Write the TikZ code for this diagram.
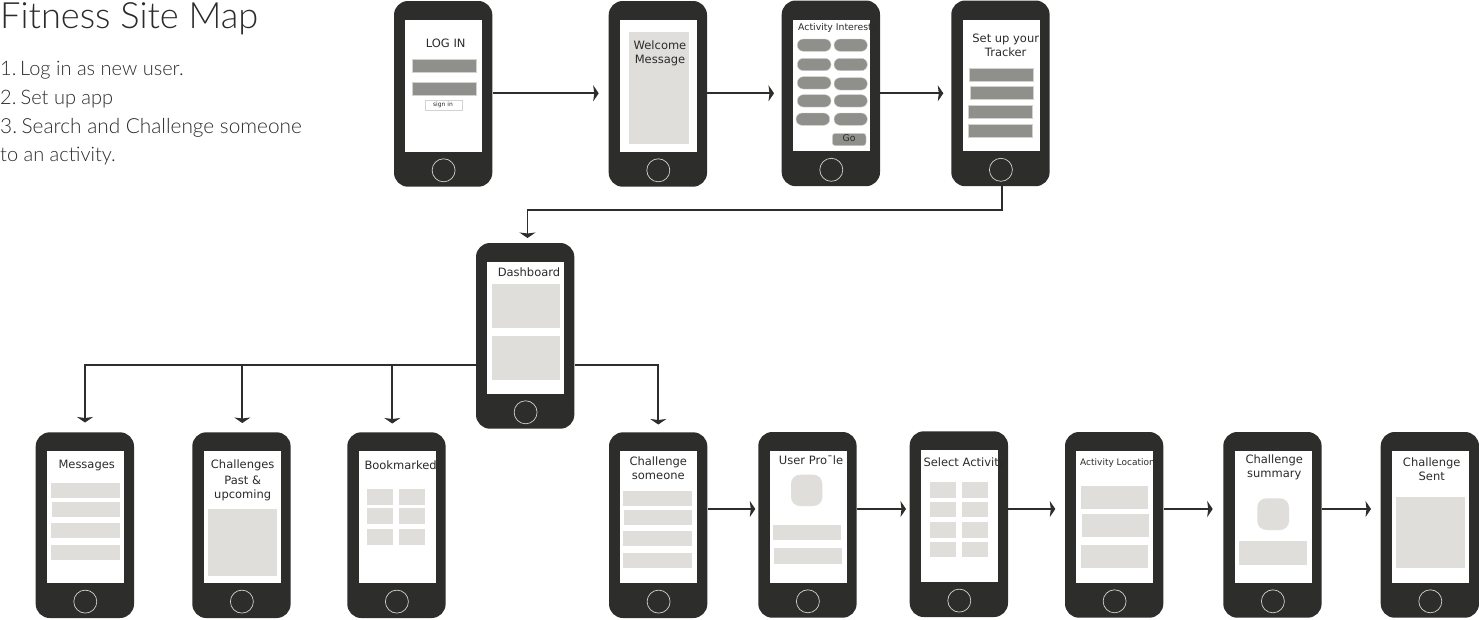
\documentclass[tikz,border=0pt]{standalone}
\usepackage{fontspec}
\setmainfont{DejaVu Sans}
\newfontfamily\headfont{Lato Light}
\usetikzlibrary{arrows.meta}
\definecolor{body}{HTML}{2D2D2B}
\definecolor{pale}{HTML}{E0DEDB}
\definecolor{mid}{HTML}{8F8F8B}
\definecolor{edge}{HTML}{D2D2CE}
\definecolor{ink}{HTML}{2B2B2B}
\tikzset{
  phone/.style={fill=body,rounded corners=14pt,minimum width=98.3pt,minimum height=185.7pt,inner sep=0pt,draw=none},
  lbl/.style={font=\fontsize{11.5}{14}\selectfont,text=ink,inner sep=0pt,align=center,yshift=-0.5pt},
  smalllbl/.style={font=\fontsize{9.3}{12}\selectfont,text=ink,inner sep=0pt,yshift=-0.5pt},
  headtxt/.style={font=\headfont\fontsize{20.8}{24}\selectfont,text=ink,inner sep=0pt,anchor=west,yshift=-1pt},
  headsmall/.style={headtxt,font=\headfont\fontsize{20}{24}\selectfont},
  conn/.style={draw=body,line width=1.9pt},
  arr/.style={conn,-{Stealth[length=5.5pt,width=16pt,inset=1pt]}}
}
\newcommand{\phonebody}[3]{%
  \node[phone] (#1) at (#2+49.15,#3+92.85) {};
  \fill[white] (#2+11.3,#3+19) rectangle (#2+88.3,#3+150.5);
  \draw[edge,line width=0.7pt] (#2+49.6,#3+169.3) circle (11.5);
}
\newcommand{\pbox}[4]{\fill[pale] (#1,#2) rectangle (#3,#4);}
\newcommand{\dbox}[4]{\filldraw[fill=mid,draw=edge,line width=0.6pt] (#1,#2) rectangle (#3,#4);}
\newcommand{\pill}[4]{\filldraw[fill=mid,draw=edge,line width=0.4pt,rounded corners=6pt] (#1,#2) rectangle (#3,#4);}
\begin{document}
\begin{tikzpicture}[x=1pt,y=-1pt]
\useasboundingbox (0,0) rectangle (1479,619);
% phones
\phonebody{login}{394}{1}
\phonebody{welcome}{608.7}{1}
\phonebody{interests}{781.7}{0.5}
\phonebody{tracker}{951.3}{0.5}
\phonebody{dash}{476}{243}
\phonebody{messages}{35.7}{432.3}
\phonebody{challenges}{192.3}{432.3}
\phonebody{bookmarked}{347.3}{432.3}
\phonebody{someone}{609}{432.3}
\phonebody{profile}{758.3}{432}
\phonebody{select}{909.7}{431.3}
\phonebody{location}{1065}{432}
\phonebody{summary}{1223.3}{432}
\phonebody{sent}{1380.7}{432}
% heading
\node[headtxt,font=\headfont\fontsize{36.2}{40}\selectfont] (title) at (0,18) {Fitness Site Map};
\node[headsmall] (l1) at (0,69) {1.\hspace{-3.5pt} Log in as new user.};
\node[headsmall] (l2) at (0,98) {2.\hspace{-3pt} Set up app};
\node[headtxt] (l3) at (0,127) {3.\hspace{-3pt} Search and Challenge someone};
\node[headsmall] (l4) at (0,155) {to an activity.};
% log in
\node[lbl] (tlogin) at (445.7,42.7) {LOG IN};
\dbox{412.3}{59.7}{476.3}{72.7}
\dbox{412.3}{82.3}{476.3}{95.3}
\filldraw[fill=white,draw=edge,line width=0.6pt] (425.7,100.3) rectangle (462.7,110.7);
\node[lbl,font=\fontsize{6}{7}\selectfont] (tsign) at (443,104.5) {sign in};
% welcome
\pbox{629}{31.7}{689}{144.3}
\node[lbl] (twelcome) at (660,52.8) {Welcome\\Message};
% interests
\node[smalllbl,anchor=west] (tinterests) at (798,27.7) {Activity Interests};
\pill{797.3}{39}{831}{51.3}\pill{834}{39}{867.3}{51.3}
\pill{797.3}{58.3}{831}{70.7}\pill{834}{58.3}{867.3}{70.7}
\pill{797.3}{76.7}{831}{89}\pill{834}{77.7}{867.3}{90}
\pill{797.3}{94.7}{831}{107}\pill{834}{94.7}{867.3}{107}
\pill{796}{113}{829.7}{125.3}\pill{834}{113}{867.3}{125.3}
\filldraw[fill=mid,draw=edge,line width=0.4pt,rounded corners=3pt] (832.3,133.3) rectangle (866,145.7);
\node[smalllbl] (tgo) at (849,137.7) {Go};
% tracker
\node[lbl] (ttracker) at (1005.7,44.7) {Set up your\\Tracker};
\dbox{969.7}{68.7}{1033.3}{81.7}
\dbox{970}{86.7}{1033.3}{99.7}
\dbox{968.7}{105}{1032.3}{118}
\dbox{968.7}{124.3}{1032.3}{137.3}
% dashboard
\node[lbl] (tdash) at (529,271.7) {Dashboard};
\pbox{492}{284}{560}{327.7}
\pbox{492}{336}{560}{380}
% messages
\node[lbl] (tmessages) at (86.7,465) {Messages};
\pbox{51}{482.7}{119.7}{498}
\pbox{51.7}{502}{120}{517.3}
\pbox{51}{523}{119.7}{538.3}
\pbox{51}{545}{119.7}{560.3}
% challenges
\node[lbl] (tchallenges) at (242.7,480) {Challenges\\[2pt]Past \&\\upcoming};
\pbox{208}{509.3}{277}{575.7}
% bookmarked
\node[lbl,anchor=west] (tbook) at (364.3,465) {Bookmarked};
\pbox{367}{489}{393.3}{504.7}\pbox{399}{489}{425.3}{504.7}
\pbox{367}{508}{393.3}{523.7}\pbox{399}{508}{425.3}{523.7}
\pbox{367}{529.3}{393.3}{544.7}\pbox{399}{529.3}{425.3}{544.7}
% someone
\node[lbl] (tsomeone) at (658.3,467.8) {Challenge\\someone};
\pbox{623.3}{490.7}{691.7}{506}
\pbox{624}{510}{692.3}{525}
\pbox{623.3}{531}{691.7}{546.3}
\pbox{623.3}{553}{691.7}{568.3}
% profile
\node[lbl] (tprofile) at (811,459.7) {User Pro¯le};
\fill[pale,rounded corners=9pt] (791,474.7) rectangle (822.3,506);
\pbox{772.7}{524.7}{841}{540}
\pbox{774}{548.3}{842.3}{563.7}
% select
\node[lbl,anchor=west] (tselect) at (923.3,462.7) {Select Activity};
\pbox{929.7}{482}{956}{497.7}\pbox{961.7}{482}{988}{497.7}
\pbox{929.7}{501.7}{956}{517}\pbox{961.7}{501.7}{988}{517}
\pbox{929.7}{522.3}{956}{537.7}\pbox{961.7}{522.3}{988}{537.7}
\pbox{929.7}{541.7}{956}{557}\pbox{961.7}{541.7}{988}{557}
% location
\node[smalllbl,anchor=west,font=\fontsize{9}{12}\selectfont] (tlocation) at (1080,462.7) {Activity Locations};
\pbox{1081}{485.7}{1148}{508.7}
\pbox{1081.7}{514.3}{1148.7}{537.3}
\pbox{1081}{545.3}{1148}{568.3}
% summary
\node[lbl] (tsummary) at (1274.3,467.3) {Challenge\\summary};
\fill[pale,rounded corners=9pt] (1257.3,498.3) rectangle (1289,530);
\pbox{1239.3}{541.3}{1307}{564.7}
% sent
\node[lbl] (tsent) at (1431.7,468.5) {Challenge\\Sent};
\pbox{1396}{497.3}{1465}{567.7}
% connector ends
\coordinate (a1) at (598.7,93.3);
\coordinate (a2) at (774,93.3);
\coordinate (a3) at (943.3,93.3);
\coordinate (d0) at (1001.7,210);
\coordinate (d1) at (527.5,210);
\coordinate (d2) at (527.5,238);
\coordinate (j0) at (85,365);
\coordinate (j1) at (85,422.5);
\coordinate (j2) at (242.3,365);
\coordinate (j3) at (242.3,423);
\coordinate (j4) at (392.3,365);
\coordinate (j5) at (392.3,423.5);
\coordinate (r0) at (658.3,365);
\coordinate (r1) at (658.3,424.5);
\coordinate (b1) at (755.3,509);
\coordinate (b2) at (906,509);
\coordinate (b3) at (1055.3,509);
\coordinate (b4) at (1212.7,509);
\coordinate (b5) at (1371,509);
% connectors
\draw[arr] (login.east |- a1) -- (a1);
\draw[arr] (welcome.east |- a2) -- (a2);
\draw[arr] (interests.east |- a3) -- (a3);
\draw[arr] (tracker.south -| d0) -- (d0) -- (d1) -- (d2);
\draw[arr] (dash.west |- j0) -- (j0) -- (j1);
\draw[arr] (j2) -- (j3);
\draw[arr] (j4) -- (j5);
\draw[arr] (dash.east |- r0) -- (r0) -- (r1);
\draw[arr] (someone.east |- b1) -- (b1);
\draw[arr] (profile.east |- b2) -- (b2);
\draw[arr] (select.east |- b3) -- (b3);
\draw[arr] (location.east |- b4) -- (b4);
\draw[arr] (summary.east |- b5) -- (b5);
\end{tikzpicture}
\end{document}
